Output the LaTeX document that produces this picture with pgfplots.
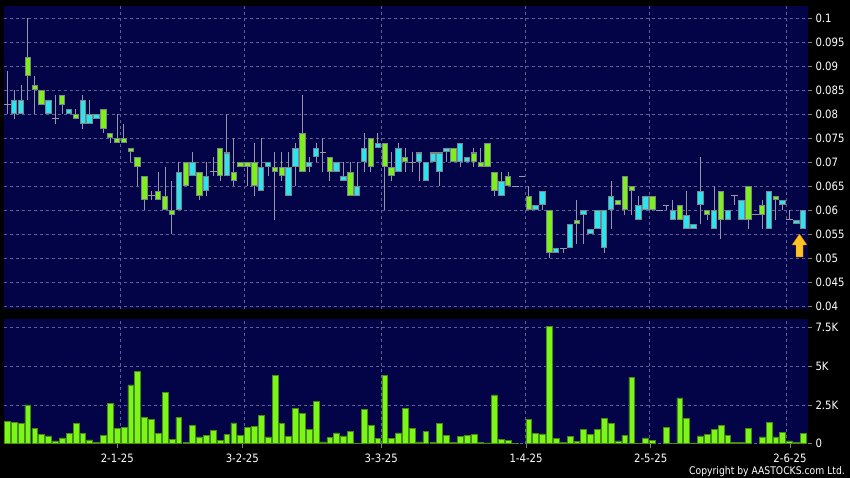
\documentclass[border=0pt]{standalone}
\usepackage{pgfplots}
\pgfplotsset{compat=1.18}
\usepackage{pgfplotstable}
\usepackage{fontspec}
\setmainfont{DejaVu Sans}[FakeStretch=0.88]
\definecolor{bgnavy}{RGB}{3,3,72}
\definecolor{gridc}{RGB}{95,95,150}
\definecolor{upg}{RGB}{124,240,24}
\definecolor{dnc}{RGB}{44,228,240}
\definecolor{edgec}{RGB}{120,135,135}
\definecolor{wickc}{RGB}{150,150,165}
\definecolor{volg}{RGB}{124,245,24}
\definecolor{vole}{RGB}{70,140,20}
\definecolor{arrowc}{RGB}{255,196,36}

\pgfdeclareplotmark{uparrow}{%
 \pgfpathmoveto{\pgfpoint{0pt}{0pt}}%
 \pgfpathlineto{\pgfpoint{7.5pt}{-11pt}}%
 \pgfpathlineto{\pgfpoint{3.5pt}{-11pt}}%
 \pgfpathlineto{\pgfpoint{3.5pt}{-23pt}}%
 \pgfpathlineto{\pgfpoint{-3.5pt}{-23pt}}%
 \pgfpathlineto{\pgfpoint{-3.5pt}{-11pt}}%
 \pgfpathlineto{\pgfpoint{-7.5pt}{-11pt}}%
 \pgfpathclose
 \pgfusepathqfillstroke}

% green candles: index, low, high, body low, body high
\pgfplotstableread{
i lo hi bl bh
4 0.083 0.100 0.088 0.092
5 0.080 0.088 0.085 0.086
6 0.082 0.085 0.082 0.085
9 0.080 0.084 0.082 0.084
11 0.079 0.081 0.079 0.080
15 0.076 0.081 0.077 0.081
16 0.074 0.076 0.075 0.076
17 0.074 0.080 0.074 0.075
18 0.074 0.078 0.074 0.075
19 0.070 0.073 0.072 0.073
20 0.065 0.071 0.069 0.071
21 0.060 0.067 0.062 0.067
23 0.062 0.068 0.062 0.064
24 0.060 0.069 0.060 0.063
25 0.055 0.066 0.059 0.060
27 0.065 0.070 0.065 0.070
29 0.062 0.068 0.063 0.068
32 0.066 0.073 0.067 0.073
34 0.065 0.075 0.066 0.068
35 0.069 0.070 0.069 0.070
36 0.065 0.070 0.069 0.070
37 0.063 0.074 0.065 0.070
40 0.058 0.072 0.068 0.069
41 0.066 0.072 0.067 0.069
44 0.068 0.084 0.068 0.076
48 0.066 0.071 0.068 0.071
51 0.063 0.070 0.063 0.068
54 0.068 0.075 0.069 0.075
56 0.060 0.074 0.069 0.074
57 0.066 0.072 0.067 0.069
59 0.068 0.073 0.070 0.071
66 0.070 0.073 0.070 0.073
69 0.069 0.073 0.070 0.072
70 0.069 0.073 0.069 0.070
71 0.069 0.074 0.069 0.074
72 0.063 0.068 0.064 0.068
74 0.065 0.068 0.065 0.067
77 0.060 0.065 0.060 0.063
80 0.050 0.060 0.051 0.060
84 0.053 0.062 0.057 0.058
90 0.061 0.062 0.061 0.062
91 0.059 0.067 0.060 0.067
92 0.059 0.065 0.064 0.065
95 0.060 0.063 0.060 0.063
99 0.058 0.061 0.058 0.061
103 0.058 0.060 0.059 0.060
105 0.054 0.064 0.058 0.064
109 0.056 0.065 0.058 0.065
111 0.056 0.062 0.059 0.061
113 0.058 0.063 0.062 0.063
}\tG

% cyan candles
\pgfplotstableread{
i lo hi bl bh
2 0.079 0.085 0.080 0.083
3 0.080 0.086 0.080 0.083
7 0.080 0.083 0.080 0.083
10 0.080 0.081 0.080 0.081
12 0.077 0.084 0.078 0.083
13 0.078 0.083 0.078 0.080
14 0.079 0.080 0.079 0.080
26 0.060 0.070 0.060 0.068
28 0.067 0.072 0.067 0.070
30 0.063 0.070 0.064 0.067
33 0.067 0.080 0.067 0.072
38 0.064 0.075 0.064 0.069
39 0.067 0.070 0.069 0.070
42 0.063 0.072 0.063 0.069
43 0.065 0.074 0.069 0.073
45 0.068 0.071 0.069 0.070
46 0.070 0.074 0.071 0.073
49 0.068 0.070 0.068 0.070
50 0.066 0.070 0.066 0.067
52 0.063 0.070 0.063 0.065
53 0.068 0.076 0.070 0.073
55 0.073 0.076 0.073 0.074
58 0.068 0.074 0.068 0.073
61 0.066 0.072 0.070 0.072
62 0.066 0.070 0.066 0.070
63 0.070 0.072 0.070 0.072
64 0.065 0.072 0.068 0.072
65 0.070 0.073 0.072 0.073
67 0.069 0.074 0.070 0.074
68 0.070 0.071 0.070 0.071
73 0.063 0.068 0.063 0.066
78 0.060 0.061 0.060 0.061
79 0.060 0.064 0.061 0.064
81 0.051 0.052 0.051 0.052
83 0.052 0.057 0.052 0.057
85 0.053 0.060 0.059 0.060
86 0.055 0.056 0.055 0.056
87 0.056 0.060 0.056 0.060
88 0.051 0.060 0.052 0.060
89 0.056 0.066 0.060 0.063
93 0.058 0.063 0.058 0.061
94 0.060 0.063 0.060 0.063
98 0.058 0.062 0.058 0.060
100 0.056 0.064 0.056 0.059
101 0.056 0.057 0.056 0.057
102 0.057 0.071 0.061 0.064
104 0.056 0.065 0.056 0.060
106 0.058 0.060 0.058 0.060
108 0.058 0.062 0.058 0.062
112 0.056 0.064 0.056 0.064
114 0.060 0.062 0.061 0.062
116 0.057 0.058 0.057 0.058
117 0.056 0.060 0.056 0.060
}\tC

% open = close candles: index, low, high, price
\pgfplotstableread{
i lo hi d
1 0.080 0.089 0.082
8 0.078 0.084 0.079
22 0.062 0.064 0.063
31 0.067 0.071 0.068
47 0.068 0.075 0.072
60 0.068 0.072 0.070
75 0.065 0.065 0.065
76 0.067 0.067 0.067
82 0.051 0.052 0.052
96 0.060 0.060 0.060
97 0.060 0.061 0.061
107 0.061 0.063 0.063
110 0.059 0.059 0.059
115 0.058 0.060 0.058
}\tX

% volume in thousands
\pgfplotstableread{
i v
1 1.41
2 1.35
3 1.31
4 2.50
5 0.96
6 0.58
7 0.49
8 0.17
9 0.36
10 0.66
11 1.28
12 0.66
13 0.24
14 0.09
15 0.54
16 2.61
17 1.00
18 1.07
19 3.79
20 4.65
21 1.67
22 1.58
23 0.64
24 3.30
25 0.28
26 1.69
27 0.06
28 1.16
29 0.43
30 0.51
31 0.84
32 0.19
33 0.58
34 1.33
35 0.54
36 1.05
37 1.09
38 1.80
39 0.43
40 4.43
41 1.31
42 0.45
43 2.29
44 1.97
45 0.90
46 2.72
47 0.11
48 0.39
49 0.69
50 0.49
51 0.81
52 0.02
53 2.21
54 1.20
55 0.32
56 4.41
57 0.34
58 0.69
59 2.29
60 0.96
61 0.11
62 0.77
63 0.09
64 1.28
65 0.54
66 0.09
67 0.45
68 0.51
69 0.58
70 0.06
71 0.04
72 3.15
73 0.26
74 0.21
75 0.03
77 1.54
78 0.64
79 0.62
80 7.58
81 0.34
82 0.09
83 0.47
84 0.15
85 0.92
86 0.60
87 0.90
88 1.61
89 1.31
90 0.17
91 0.54
92 4.30
93 0.02
94 0.36
95 0.21
97 1.03
98 0.02
99 2.96
100 1.65
101 0.04
102 0.49
103 0.60
104 0.92
105 1.16
106 0.54
107 0.09
108 0.09
109 1.00
111 0.43
112 1.37
113 0.43
114 0.73
115 0.17
116 0.06
117 0.64
}\tV

\pgfplotsset{
 chartpanel/.style={
  scale only axis, anchor=south west, width=804pt,
  xmin=0.519, xmax=117.69,
  axis background/.style={fill=bgnavy},
  axis line style={draw=none},
  grid style={draw=gridc, dash pattern=on 3pt off 3pt, line width=0.7pt},
  minor grid style={draw=gridc, dash pattern=on 3pt off 3pt, line width=0.7pt},
  ytick pos=right, yticklabel pos=right,
  tick align=outside, major tick length=4pt,
  tick style={draw=gray, line width=0.8pt},
  ticklabel style={text=white, font=\fontsize{11.5}{13}\selectfont},
 },
 wick/.style={draw=none, mark=none, forget plot,
  error bars/.cd, y dir=minus, y explicit, error mark=none,
  error bar style={draw=wickc, line width=1pt}},
 bodyedge/.style={draw=none, mark=none, forget plot,
  error bars/.cd, y dir=minus, y explicit, error mark=none,
  error bar style={draw=edgec, line width=6.4pt}},
 bodyfill/.style={draw=none, mark=none, forget plot,
  error bars/.cd, y dir=minus, y explicit, error mark=none,
  error bar style={draw=#1, line width=4.4pt}},
}

\begin{document}
\begin{tikzpicture}
\fill[black] (0pt,0pt) rectangle (850pt,478pt);
\useasboundingbox (0pt,0pt) rectangle (850pt,478pt);

\begin{axis}[chartpanel, at={(4pt,169pt)}, height=303pt,
  ymin=0.039375, ymax=0.10254,
  ytick={0.04,0.045,0.05,0.055,0.06,0.065,0.07,0.075,0.08,0.085,0.09,0.095,0.1},
  yticklabels={0.04,0.045,0.05,0.055,0.06,0.065,0.07,0.075,0.08,0.085,0.09,0.095,0.1},
  ymajorgrids,
  xtick={17.47,35.54,55.53,76.52,94.59,114.58}, xticklabels={},
  xmajorgrids, x tick style={draw=none}]
 % wicks
 \addplot[wick] table[x=i, y=hi, y error minus expr=\thisrow{hi}-\thisrow{lo}] {\tG};
 \addplot[wick] table[x=i, y=hi, y error minus expr=\thisrow{hi}-\thisrow{lo}] {\tC};
 \addplot[wick] table[x=i, y=hi, y error minus expr=\thisrow{hi}-\thisrow{lo}] {\tX};
 % open = close dashes
 \addplot[draw=none, mark=none, forget plot,
  error bars/.cd, x dir=both, x fixed=0.5, error mark=none,
  error bar style={draw=wickc, line width=1pt}] table[x=i, y=d] {\tX};
 % bodies
 \addplot[bodyedge] table[x=i, y=bh, y error minus expr=\thisrow{bh}-\thisrow{bl}] {\tG};
 \addplot[bodyedge] table[x=i, y=bh, y error minus expr=\thisrow{bh}-\thisrow{bl}] {\tC};
 \addplot[bodyfill=upg] table[x=i, y expr=\thisrow{bh}-0.00021, y error minus expr=\thisrow{bh}-\thisrow{bl}-0.00042] {\tG};
 \addplot[bodyfill=dnc] table[x=i, y expr=\thisrow{bh}-0.00021, y error minus expr=\thisrow{bh}-\thisrow{bl}-0.00042] {\tC};
 % arrow marker
 \addplot[only marks, mark=uparrow, mark options={fill=arrowc, draw=orange!85!black, line width=0.4pt}] coordinates {(116.45,0.05501)};
\end{axis}

\begin{axis}[chartpanel, at={(4pt,34pt)}, height=125pt,
  ymin=-0.03, ymax=8.063,
  ytick={0,2.5,5,7.5}, yticklabels={0,2.5K,5K,7.5K},
  ymajorgrids,
  xtick={17.03,35.25,55.5,76.6,94.76,115.06},
  xticklabels={2-1-25,3-2-25,3-3-25,1-4-25,2-5-25,2-6-25},
  xticklabel style={yshift=-2pt},
  xtick pos=bottom,
  minor xtick={17.47,35.54,55.53,76.52,94.59,114.58},
  xminorgrids, minor tick length=0pt]
 \addplot[ybar, bar width=5.8pt, bar shift=0pt, fill=volg, draw=vole, line width=0.6pt] table[x=i, y=v] {\tV};
\end{axis}

\node[anchor=east, text=white, font=\fontsize{10.5}{12}\selectfont, inner sep=0pt] at (845pt,6.3pt) {Copyright by AASTOCKS.com Ltd.};
\end{tikzpicture}
\end{document}
